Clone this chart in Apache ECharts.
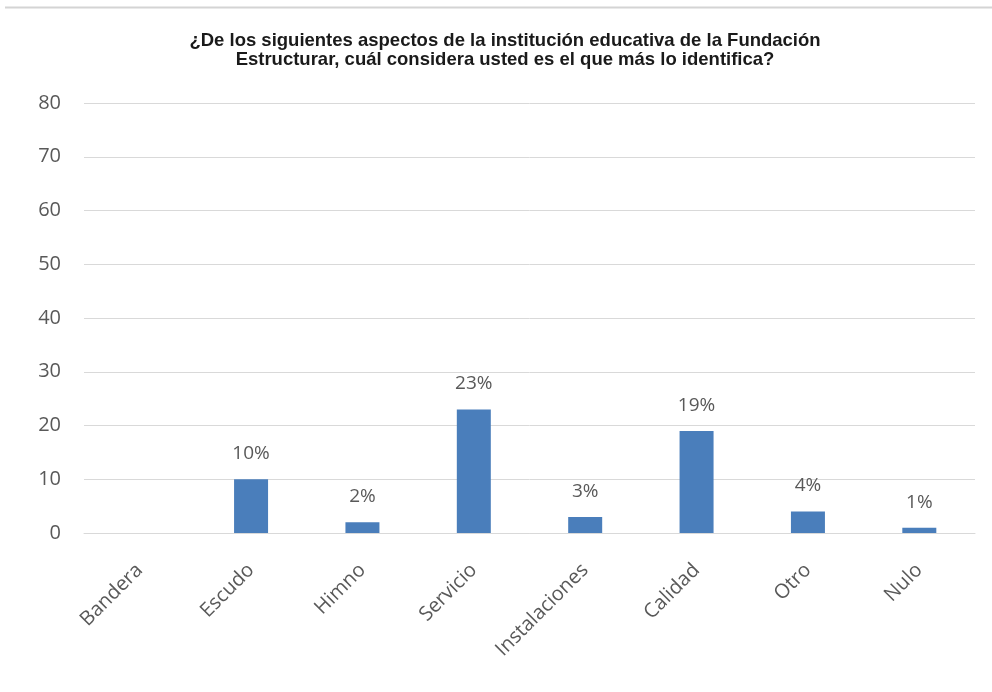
<!DOCTYPE html>
<html>
<head>
<meta charset="utf-8">
<script src="https://cdn.jsdelivr.net/npm/echarts@6/dist/echarts.min.js"></script>
<style>
  html, body { margin: 0; padding: 0; background: #ffffff; }
  #chart { width: 992px; height: 692px; }
</style>
</head>
<body>
<div id="chart"></div>
<script>
// Survey answers: which aspect of the school identifies the respondent most
const categories = ['Bandera', 'Escudo', 'Himno', 'Servicio', 'Instalaciones', 'Calidad', 'Otro', 'Nulo'];
const values = [0, 10, 2, 23, 3, 19, 4, 1];
const yTicks = { min: 0, max: 80, interval: 10 };
const titleLines = [
  '¿De los siguientes aspectos de la institución educativa de la Fundación',
  'Estructurar, cuál considera usted es el que más lo identifica?'
];

const chart = echarts.init(document.getElementById('chart'), null, { renderer: 'canvas' });

const textColor = '#595959';
const labelFont = "'Open Sans', 'Noto Sans', sans-serif";

chart.setOption({
  animation: false,
  backgroundColor: '#ffffff',
  graphic: [{
    type: 'line',
    shape: { x1: 5, y1: 7.5, x2: 992, y2: 7.5 },
    style: { stroke: '#d4d4d4', lineWidth: 2 }
  }],
  title: {
    text: titleLines.join('\n'),
    left: 500,
    textAlign: 'center',
    top: 26,
    textStyle: {
      fontFamily: "'Liberation Sans', Arial, sans-serif",
      fontWeight: 'bold',
      fontSize: 18.5,
      lineHeight: 19,
      color: '#1a1a1a'
    }
  },
  grid: { left: 84, right: 17, top: 103, bottom: 159 },
  xAxis: {
    type: 'category',
    data: categories,
    axisLine: { show: true, lineStyle: { color: '#d9d9d9', width: 1 } },
    axisTick: { show: false },
    axisLabel: {
      rotate: 45,
      margin: 34,
      color: textColor,
      fontFamily: labelFont,
      fontSize: 20,
      interval: 0
    }
  },
  yAxis: {
    type: 'value',
    min: yTicks.min,
    max: yTicks.max,
    interval: yTicks.interval,
    axisLine: { show: false },
    axisTick: { show: false },
    splitLine: { lineStyle: { color: '#d9d9d9', width: 1 } },
    axisLabel: {
      color: textColor,
      fontFamily: labelFont,
      fontSize: 20,
      margin: 23
    }
  },
  series: [{
    type: 'bar',
    data: values,
    barWidth: 34,
    itemStyle: { color: '#4a7ebb' },
    label: {
      show: true,
      position: 'top',
      distance: 16,
      color: textColor,
      fontFamily: labelFont,
      fontSize: 19,
      formatter: p => (p.value ? p.value + '%' : '')
    }
  }]
});
</script>
</body>
</html>
